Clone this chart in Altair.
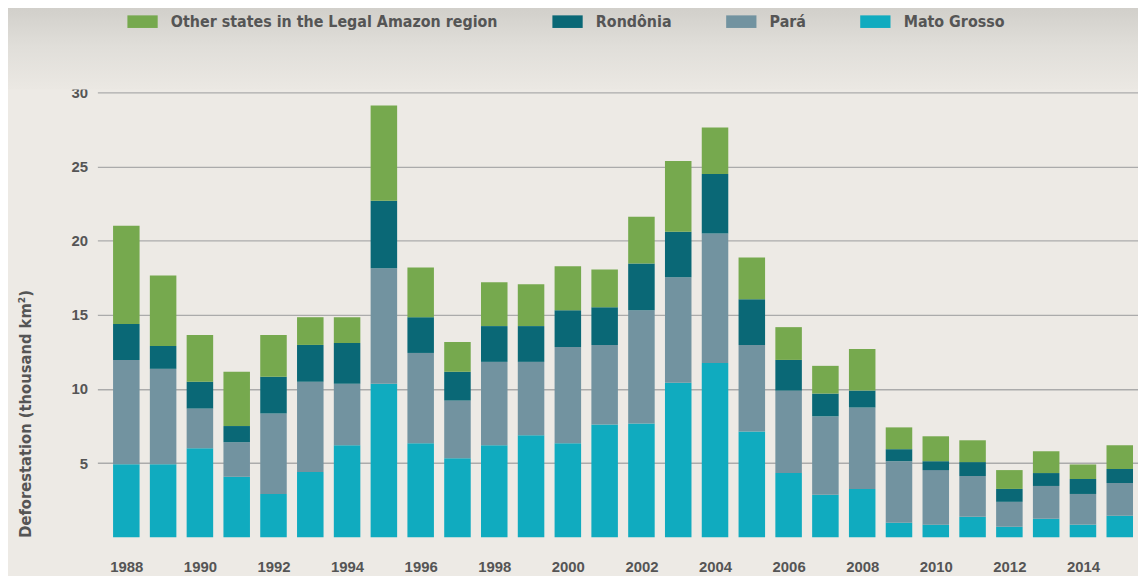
import altair as alt
import pandas as pd

years = list(range(1988, 2016))
mato_grosso = [4.93, 4.93, 6.0, 4.08, 2.92, 4.40, 6.2, 10.36, 6.34, 5.33,
               6.2, 6.88, 6.34, 7.61, 7.68, 10.42, 11.76, 7.14, 4.33, 2.86,
               3.26, 0.98, 0.85, 1.38, 0.71, 1.25, 0.85, 1.45]
para = [7.03, 6.43, 2.68, 2.33, 5.43, 6.09, 4.16, 7.79, 6.09, 3.89,
        5.63, 4.95, 6.49, 5.36, 7.63, 7.11, 8.72, 5.83, 5.56, 5.29,
        5.49, 4.15, 3.68, 2.75, 1.68, 2.21, 2.07, 2.21]
rondonia = [2.42, 1.54, 1.81, 1.09, 2.48, 2.48, 2.74, 4.54, 2.41, 1.94,
            2.41, 2.41, 2.48, 2.54, 3.16, 3.08, 4.01, 3.08, 2.07, 1.54,
            1.14, 0.81, 0.60, 0.94, 0.87, 0.87, 1.01, 0.94]
other = [6.62, 4.76, 3.15, 3.66, 2.81, 1.87, 1.74, 6.43, 3.36, 2.01,
         2.95, 2.82, 2.96, 2.54, 3.14, 4.76, 3.15, 2.82, 2.21, 1.87,
         2.81, 1.47, 1.68, 1.47, 1.27, 1.47, 0.98, 1.6]

series_names = ["Other states in the Legal Amazon region", "Rondônia", "Pará", "Mato Grosso"]
series_colors = ["#76A94E", "#0A6876", "#7293A0", "#10ABBF"]
stack_index = {"Mato Grosso": 0, "Pará": 1, "Rondônia": 2, "Other states in the Legal Amazon region": 3}
series_values = {
    "Mato Grosso": mato_grosso,
    "Pará": para,
    "Rondônia": rondonia,
    "Other states in the Legal Amazon region": other,
}
x_tick_values = list(range(1988, 2015, 2))
y_tick_values = [5, 10, 15, 20, 25, 30]

rows = []
for name, vals in series_values.items():
    for yr, v in zip(years, vals):
        rows.append({"year": yr, "value": v, "region": name, "idx": stack_index[name]})
df = pd.DataFrame(rows)

FONT = "Liberation Sans"
NARROW = "DejaVu Sans Condensed, Liberation Sans Narrow, sans-serif"

backdrop = alt.Chart(alt.Data(values=[{}])).mark_rect(
    color=alt.Gradient(
        gradient="linear",
        stops=[alt.GradientStop(color="#CFCDC8", offset=0),
               alt.GradientStop(color="#E0DED9", offset=0.5),
               alt.GradientStop(color="#EBE8E3", offset=1)],
        x1=0, x2=0, y1=0, y2=1,
    )
).encode(
    x=alt.value(-90), x2=alt.value(1048), y=alt.value(-91), y2=alt.value(-3)
)

bars = alt.Chart(df).mark_bar(size=26.7).encode(
    x=alt.X("year:Q",
            scale=alt.Scale(domain=[1987.348, 2015.361], nice=False, zero=False),
            axis=alt.Axis(values=x_tick_values, format="d", title=None, grid=False,
                          domain=False, ticks=False, labelFont=FONT, labelFontSize=15,
                          labelFontWeight="bold", labelColor="#555555", labelPadding=22)),
    y=alt.Y("value:Q", stack="zero",
            scale=alt.Scale(domain=[0, 30], nice=False),
            axis=alt.Axis(values=y_tick_values, title="Deforestation (thousand km²)",
                          domain=False, ticks=False, grid=True, gridColor="#ABABAB",
                          gridWidth=1.4, labelFont=FONT, labelFontSize=15,
                          labelFontWeight="bold", labelColor="#555555", labelPadding=10,
                          titleFont=NARROW, titleFontSize=16.5, titleFontWeight="bold",
                          titleColor="#555555", titleAngle=270, titleAlign="left",
                          titleBaseline="middle", titleX=-72, titleY=448)),
    color=alt.Color("region:N",
                    scale=alt.Scale(domain=series_names, range=series_colors),
                    sort=series_names,
                    legend=alt.Legend(title=None, orient="none", legendX=30, legendY=-87,
                                      direction="horizontal", columns=4, columnPadding=54,
                                      symbolType="M-1,-0.416H1V0.416H-1Z", symbolSize=930,
                                      symbolStrokeWidth=0, labelOffset=13,
                                      labelFont=NARROW, labelFontSize=16,
                                      labelFontWeight="bold", labelColor="#555555",
                                      labelLimit=600)),
    order=alt.Order("idx:Q", sort="ascending"),
)

chart = alt.layer(backdrop, bars).properties(
    width=1048, height=448,
    autosize=alt.AutoSizeParams(type="none"),
    padding={"left": 90, "top": 83, "right": 0, "bottom": 37},
    background="#EDEAE5",
).configure_view(strokeWidth=0)

chart.save("out.html", embed_options={"renderer": "svg", "actions": False})
